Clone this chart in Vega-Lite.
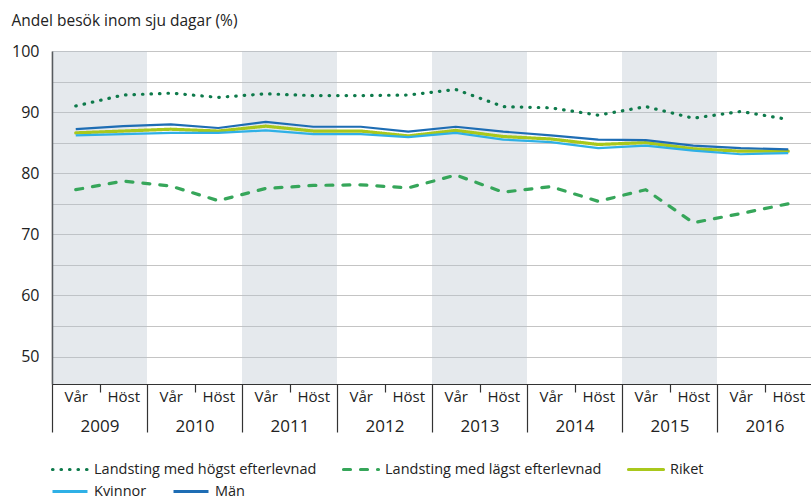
{
  "$schema": "https://vega.github.io/schema/vega-lite/v6.json",
  "width": 760,
  "height": 333,
  "autosize": {"type": "none"},
  "padding": {"left": 52, "top": 51, "right": 0, "bottom": 118},
  "background": "white",
  "title": {"text": "Andel besök inom sju dagar (%)", "anchor": "start", "frame": "bounds", "offset": 14, "fontSize": 15.5, "font": "Open Sans", "fontWeight": "normal", "color": "#222"},
  "config": {
    "view": {"stroke": null},
    "font": "Open Sans",
    "legend": {"layout": {"bottom": {"direction": "vertical", "anchor": "start", "margin": 5}}}
  },
  "datasets": {
    "band": [
      {"från": 2009, "till": 2010},
      {"från": 2011, "till": 2012},
      {"från": 2013, "till": 2014},
      {"från": 2015, "till": 2016}
    ],
    "serier": [
      {"tid": 2009.25, "serie": "Landsting med högst efterlevnad", "andel": 91.0},
      {"tid": 2009.75, "serie": "Landsting med högst efterlevnad", "andel": 92.8},
      {"tid": 2010.25, "serie": "Landsting med högst efterlevnad", "andel": 93.1},
      {"tid": 2010.75, "serie": "Landsting med högst efterlevnad", "andel": 92.4},
      {"tid": 2011.25, "serie": "Landsting med högst efterlevnad", "andel": 93.0},
      {"tid": 2011.75, "serie": "Landsting med högst efterlevnad", "andel": 92.7},
      {"tid": 2012.25, "serie": "Landsting med högst efterlevnad", "andel": 92.7},
      {"tid": 2012.75, "serie": "Landsting med högst efterlevnad", "andel": 92.8},
      {"tid": 2013.25, "serie": "Landsting med högst efterlevnad", "andel": 93.7},
      {"tid": 2013.75, "serie": "Landsting med högst efterlevnad", "andel": 90.9},
      {"tid": 2014.25, "serie": "Landsting med högst efterlevnad", "andel": 90.7},
      {"tid": 2014.75, "serie": "Landsting med högst efterlevnad", "andel": 89.5},
      {"tid": 2015.25, "serie": "Landsting med högst efterlevnad", "andel": 90.9},
      {"tid": 2015.75, "serie": "Landsting med högst efterlevnad", "andel": 89.0},
      {"tid": 2016.25, "serie": "Landsting med högst efterlevnad", "andel": 90.1},
      {"tid": 2016.75, "serie": "Landsting med högst efterlevnad", "andel": 88.8},
      {"tid": 2009.25, "serie": "Landsting med lägst efterlevnad", "andel": 77.3},
      {"tid": 2009.75, "serie": "Landsting med lägst efterlevnad", "andel": 78.7},
      {"tid": 2010.25, "serie": "Landsting med lägst efterlevnad", "andel": 77.9},
      {"tid": 2010.75, "serie": "Landsting med lägst efterlevnad", "andel": 75.5},
      {"tid": 2011.25, "serie": "Landsting med lägst efterlevnad", "andel": 77.5},
      {"tid": 2011.75, "serie": "Landsting med lägst efterlevnad", "andel": 78.0},
      {"tid": 2012.25, "serie": "Landsting med lägst efterlevnad", "andel": 78.1},
      {"tid": 2012.75, "serie": "Landsting med lägst efterlevnad", "andel": 77.6},
      {"tid": 2013.25, "serie": "Landsting med lägst efterlevnad", "andel": 79.7},
      {"tid": 2013.75, "serie": "Landsting med lägst efterlevnad", "andel": 76.9},
      {"tid": 2014.25, "serie": "Landsting med lägst efterlevnad", "andel": 77.8},
      {"tid": 2014.75, "serie": "Landsting med lägst efterlevnad", "andel": 75.4},
      {"tid": 2015.25, "serie": "Landsting med lägst efterlevnad", "andel": 77.3},
      {"tid": 2015.75, "serie": "Landsting med lägst efterlevnad", "andel": 71.9},
      {"tid": 2016.25, "serie": "Landsting med lägst efterlevnad", "andel": 73.4},
      {"tid": 2016.75, "serie": "Landsting med lägst efterlevnad", "andel": 75.0},
      {"tid": 2009.25, "serie": "Riket", "andel": 86.6},
      {"tid": 2009.75, "serie": "Riket", "andel": 86.9},
      {"tid": 2010.25, "serie": "Riket", "andel": 87.2},
      {"tid": 2010.75, "serie": "Riket", "andel": 86.9},
      {"tid": 2011.25, "serie": "Riket", "andel": 87.7},
      {"tid": 2011.75, "serie": "Riket", "andel": 86.9},
      {"tid": 2012.25, "serie": "Riket", "andel": 86.9},
      {"tid": 2012.75, "serie": "Riket", "andel": 86.1},
      {"tid": 2013.25, "serie": "Riket", "andel": 87.0},
      {"tid": 2013.75, "serie": "Riket", "andel": 86.0},
      {"tid": 2014.25, "serie": "Riket", "andel": 85.6},
      {"tid": 2014.75, "serie": "Riket", "andel": 84.7},
      {"tid": 2015.25, "serie": "Riket", "andel": 85.0},
      {"tid": 2015.75, "serie": "Riket", "andel": 84.0},
      {"tid": 2016.25, "serie": "Riket", "andel": 83.6},
      {"tid": 2016.75, "serie": "Riket", "andel": 83.6},
      {"tid": 2009.25, "serie": "Kvinnor", "andel": 86.2},
      {"tid": 2009.75, "serie": "Kvinnor", "andel": 86.4},
      {"tid": 2010.25, "serie": "Kvinnor", "andel": 86.6},
      {"tid": 2010.75, "serie": "Kvinnor", "andel": 86.6},
      {"tid": 2011.25, "serie": "Kvinnor", "andel": 87.0},
      {"tid": 2011.75, "serie": "Kvinnor", "andel": 86.4},
      {"tid": 2012.25, "serie": "Kvinnor", "andel": 86.4},
      {"tid": 2012.75, "serie": "Kvinnor", "andel": 85.9},
      {"tid": 2013.25, "serie": "Kvinnor", "andel": 86.6},
      {"tid": 2013.75, "serie": "Kvinnor", "andel": 85.5},
      {"tid": 2014.25, "serie": "Kvinnor", "andel": 85.1},
      {"tid": 2014.75, "serie": "Kvinnor", "andel": 84.1},
      {"tid": 2015.25, "serie": "Kvinnor", "andel": 84.5},
      {"tid": 2015.75, "serie": "Kvinnor", "andel": 83.7},
      {"tid": 2016.25, "serie": "Kvinnor", "andel": 83.1},
      {"tid": 2016.75, "serie": "Kvinnor", "andel": 83.3},
      {"tid": 2009.25, "serie": "Män", "andel": 87.2},
      {"tid": 2009.75, "serie": "Män", "andel": 87.7},
      {"tid": 2010.25, "serie": "Män", "andel": 88.0},
      {"tid": 2010.75, "serie": "Män", "andel": 87.4},
      {"tid": 2011.25, "serie": "Män", "andel": 88.4},
      {"tid": 2011.75, "serie": "Män", "andel": 87.6},
      {"tid": 2012.25, "serie": "Män", "andel": 87.6},
      {"tid": 2012.75, "serie": "Män", "andel": 86.8},
      {"tid": 2013.25, "serie": "Män", "andel": 87.6},
      {"tid": 2013.75, "serie": "Män", "andel": 86.8},
      {"tid": 2014.25, "serie": "Män", "andel": 86.2},
      {"tid": 2014.75, "serie": "Män", "andel": 85.5},
      {"tid": 2015.25, "serie": "Män", "andel": 85.4},
      {"tid": 2015.75, "serie": "Män", "andel": 84.5},
      {"tid": 2016.25, "serie": "Män", "andel": 84.1},
      {"tid": 2016.75, "serie": "Män", "andel": 83.9}
    ]
  },
  "layer": [
    {
      "data": {"name": "band"},
      "mark": {"type": "rect", "color": "#b8c2cc", "opacity": 0.36},
      "encoding": {
        "x": {
          "field": "från", "type": "quantitative",
          "scale": {"domain": [2009, 2017], "nice": false, "zero": false},
          "axis": {"orient": "bottom", "values": [2009, 2010, 2011, 2012, 2013, 2014, 2015, 2016, 2017], "labels": false, "ticks": true, "tickSize": 48, "tickColor": "#333", "tickWidth": 1.2, "domain": true, "domainColor": "#333", "domainWidth": 1.2, "grid": false, "title": null}
        },
        "x2": {"field": "till"},
        "y": {
          "datum": 100, "type": "quantitative",
          "scale": {"domain": [45.5, 100], "nice": false, "zero": false},
          "axis": {"values": [50, 55, 60, 65, 70, 75, 80, 85, 90, 95, 100], "grid": true, "gridColor": "#c4c4c4", "gridWidth": 1, "ticks": false, "labelExpr": "datum.value % 10 === 0 ? datum.label : ''", "labelPadding": 13, "labelFontSize": 16, "labelColor": "#222", "labelFont": "Open Sans", "domain": true, "domainColor": "#222", "domainWidth": 1.5, "title": null}
        },
        "y2": {"datum": 45.5}
      }
    },
    {
      "data": {"name": "serier"},
      "transform": [{"filter": "datum.serie !== 'Kvinnor' && datum.serie !== 'Män'"}],
      "mark": {"type": "line", "strokeCap": "round", "strokeJoin": "round"},
      "encoding": {
        "x": {
          "field": "tid", "type": "quantitative",
          "axis": {"orient": "bottom", "values": [2009.25, 2009.75, 2010.25, 2010.75, 2011.25, 2011.75, 2012.25, 2012.75, 2013.25, 2013.75, 2014.25, 2014.75, 2015.25, 2015.75, 2016.25, 2016.75], "labelExpr": "datum.value % 1 < 0.5 ? 'Vår' : 'Höst'", "ticks": false, "tickSize": 0, "domain": false, "grid": false, "labelPadding": 5, "labelFontSize": 15, "labelColor": "#222", "labelFont": "Open Sans", "labelOverlap": false, "labelFlush": false, "labelBound": false, "title": null}
        },
        "y": {
          "field": "andel", "type": "quantitative",
          "axis": {"values": [50, 55, 60, 65, 70, 75, 80, 85, 90, 95, 100], "grid": true, "gridColor": "#c4c4c4", "gridWidth": 1, "ticks": false, "labelExpr": "datum.value % 10 === 0 ? datum.label : ''", "labelPadding": 13, "labelFontSize": 16, "labelColor": "#222", "labelFont": "Open Sans", "domain": true, "domainColor": "#222", "domainWidth": 1.5, "title": null}
        },
        "color": {
          "field": "serie", "type": "nominal",
          "scale": {"domain": ["Landsting med högst efterlevnad", "Landsting med lägst efterlevnad", "Riket"], "range": ["#0e7a4b", "#36a65a", "#a9c81c"]},
          "legend": {"title": null, "orient": "bottom", "direction": "horizontal", "symbolType": "M-2,0H2", "symbolSize": 306, "symbolOffset": 7.5, "symbolStrokeWidth": 3.2, "labelFontSize": 14.5, "labelFont": "Open Sans", "labelColor": "#222", "labelOffset": 13.5, "labelLimit": 400, "columnPadding": 20, "offset": 25, "padding": 0, "encode": {"symbols": {"update": {"strokeCap": {"value": "round"}}}}}
        },
        "strokeDash": {
          "field": "serie", "type": "nominal",
          "scale": {"domain": ["Landsting med högst efterlevnad", "Landsting med lägst efterlevnad", "Riket"], "range": [[0.5, 8], [7, 10], [1, 0]]},
          "legend": {"title": null}
        },
        "strokeWidth": {
          "field": "serie", "type": "nominal",
          "scale": {"domain": ["Landsting med högst efterlevnad", "Landsting med lägst efterlevnad", "Riket"], "range": [3.2, 3.2, 4.5]},
          "legend": null
        }
      }
    },
    {
      "data": {"name": "serier"},
      "transform": [{"filter": "datum.serie === 'Kvinnor' || datum.serie === 'Män'"}],
      "mark": {"type": "line", "strokeWidth": 2.2, "strokeJoin": "round"},
      "encoding": {
        "x": {
          "field": "tid", "type": "quantitative",
          "axis": {"orient": "bottom", "values": [2009.5, 2010.5, 2011.5, 2012.5, 2013.5, 2014.5, 2015.5, 2016.5], "labelExpr": "floor(datum.value)", "ticks": true, "tickSize": 8, "tickColor": "#333", "tickWidth": 1.2, "domain": false, "grid": false, "labelPadding": 26, "labelFontSize": 17, "labelColor": "#222", "labelFont": "Open Sans", "labelOverlap": false, "labelFlush": false, "labelBound": false, "title": null}
        },
        "y": {
          "field": "andel", "type": "quantitative",
          "axis": {"values": [50, 55, 60, 65, 70, 75, 80, 85, 90, 95, 100], "grid": true, "gridColor": "#c4c4c4", "gridWidth": 1, "ticks": false, "labelExpr": "datum.value % 10 === 0 ? datum.label : ''", "labelPadding": 13, "labelFontSize": 16, "labelColor": "#222", "labelFont": "Open Sans", "domain": true, "domainColor": "#222", "domainWidth": 1.5, "title": null}
        },
        "color": {
          "field": "serie", "type": "nominal",
          "scale": {"domain": ["Kvinnor", "Män"], "range": ["#2fb0e6", "#1e6db4"]},
          "legend": {"title": null, "orient": "bottom", "direction": "horizontal", "symbolType": "M-2,0H2", "symbolSize": 306, "symbolOffset": 7.5, "symbolStrokeWidth": 3.2, "labelFontSize": 14.5, "labelFont": "Open Sans", "labelColor": "#222", "labelOffset": 13.5, "labelLimit": 400, "columnPadding": 20, "offset": 25, "padding": 0}
        }
      }
    }
  ],
  "resolve": {"axis": {"x": "independent"}, "scale": {"color": "independent", "strokeDash": "independent", "strokeWidth": "independent"}}
}
